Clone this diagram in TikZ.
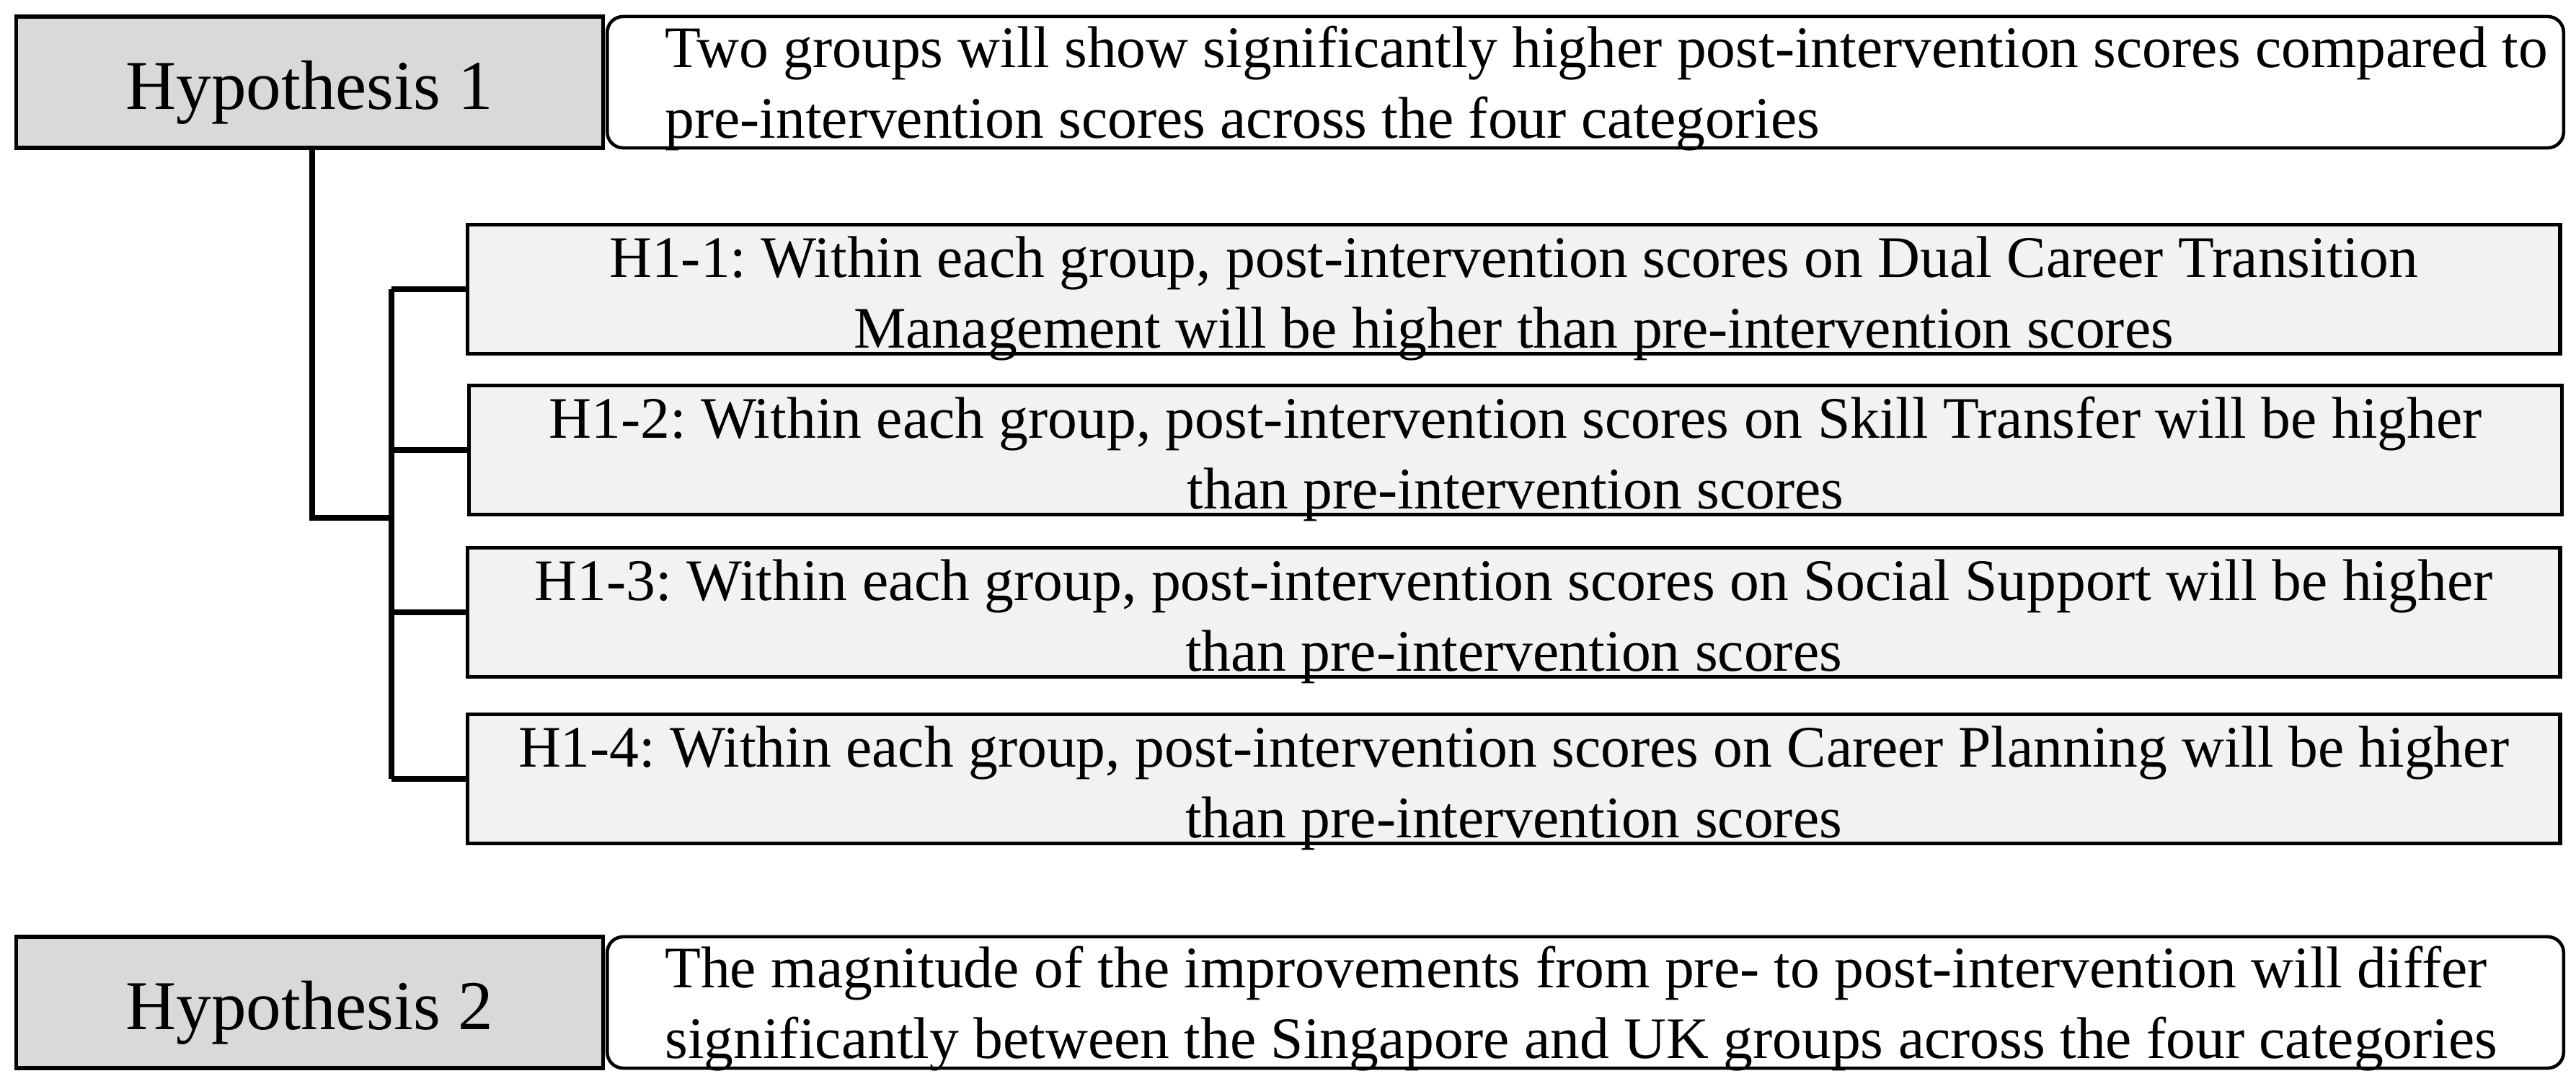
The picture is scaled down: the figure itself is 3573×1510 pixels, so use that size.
\documentclass[tikz,border=0pt]{standalone}
\usepackage{fontspec}
\setmainfont{Liberation Serif}
\frenchspacing
\definecolor{hypgray}{HTML}{D9D9D9}
\definecolor{subgray}{HTML}{F2F2F2}
\newcommand\boxtext[3]{\raisebox{#1}[0pt][0pt]{\begin{tabular}[t]{@{}#2@{}}#3\end{tabular}}}
\begin{document}
\begin{tikzpicture}[x=0.01cm,y=-0.01cm,
  every node/.style={inner sep=0pt, outer sep=0pt},
  hyp/.style={draw=black, line width=1.5pt, fill=hypgray, minimum width=8.13cm, minimum height=1.82cm, font=\fontsize{27.6}{33}\selectfont},
  desc/.style={draw=black, line width=1.3pt, fill=white, rounded corners=0.22cm, minimum width=27.12cm, minimum height=1.82cm, font=\fontsize{23.2}{27.6}\selectfont},
  subbox/.style={draw=black, line width=1.5pt, fill=subgray, minimum width=29.01cm, minimum height=1.79cm, font=\fontsize{23.2}{27.6}\selectfont},
  conn/.style={line width=2pt}
]
\useasboundingbox (0,0) rectangle (3573,1510);
\fill[white] (0,0) rectangle (3573,1510);

\node[hyp] (h1) at (429.5,114) {\raisebox{-0.37cm}[0pt][0pt]{Hypothesis 1}};
\node[desc] (d1) at (2199,114) {\makebox[27.12cm][l]{\hspace{0.8cm}\boxtext{0.2cm}{l}{Two groups will show significantly higher post-intervention scores compared to\\pre-intervention scores across the four categories}}};

\node[subbox] (h11) at (2099.5,401) {\boxtext{0.16cm}{c}{H1-1: Within each group, post-intervention scores on Dual Career Transition\\Management will be higher than pre-intervention scores}};
\node[subbox] (h12) at (2102,624) {\boxtext{0.16cm}{c}{H1-2: Within each group, post-intervention scores on Skill Transfer will be higher\\than pre-intervention scores}};
\node[subbox] (h13) at (2099.5,849) {\boxtext{0.16cm}{c}{H1-3: Within each group, post-intervention scores on Social Support will be higher\\than pre-intervention scores}};
\node[subbox] (h14) at (2099.5,1080) {\boxtext{0.16cm}{c}{H1-4: Within each group, post-intervention scores on Career Planning will be higher\\than pre-intervention scores}};

\node[hyp] (h2) at (429.5,1390) {\raisebox{-0.37cm}[0pt][0pt]{Hypothesis 2}};
\node[desc] (d2) at (2199,1390) {\makebox[27.12cm][l]{\hspace{0.8cm}\boxtext{0.2cm}{l}{The magnitude of the improvements from pre- to post-intervention will differ\\significantly between the Singapore and UK groups across the four categories}}};

\coordinate (j) at (433,718);
\coordinate (bus) at (543,718);
\draw[conn] (h1.south -| j) -- (j) -- (bus);
\draw[conn] (h11.west -| bus) -- (h14.west -| bus);
\foreach \n in {h11,h12,h13,h14} {
  \draw[conn] (\n.west -| bus) -- (\n.west);
}
\end{tikzpicture}
\end{document}
